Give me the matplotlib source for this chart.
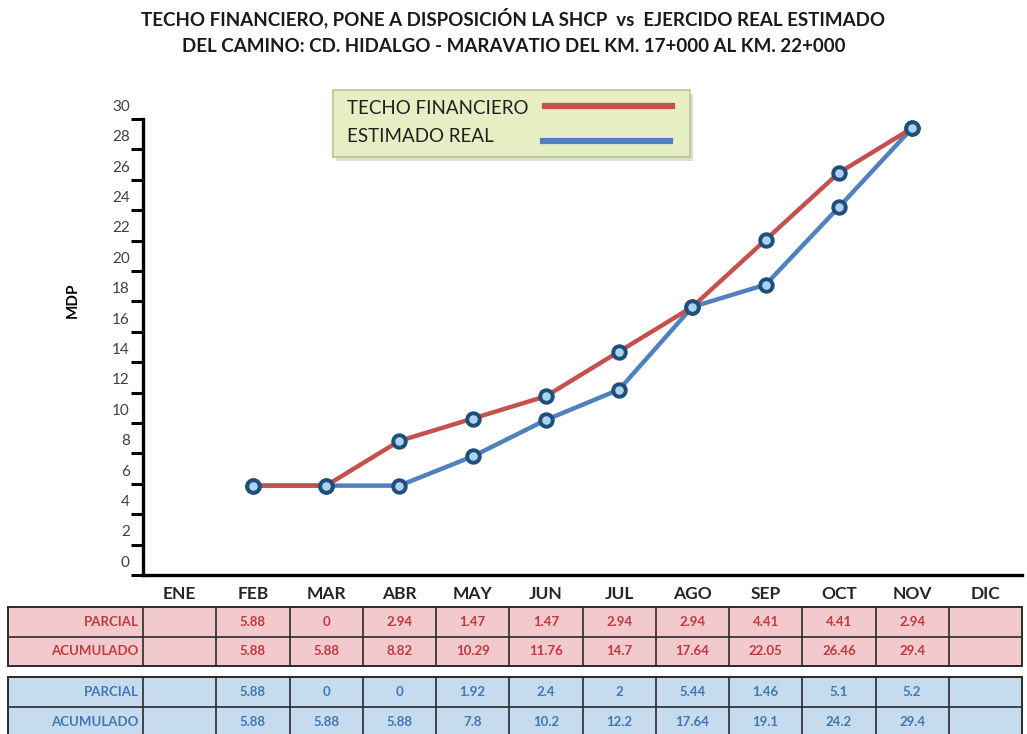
import matplotlib
matplotlib.use("Agg")
import matplotlib.pyplot as plt
from matplotlib.patches import Rectangle
from matplotlib.transforms import blended_transform_factory
from matplotlib.lines import Line2D

plt.rcParams['font.family'] = ['Lato', 'DejaVu Sans']

# ---- data ----
months = ["ENE", "FEB", "MAR", "ABR", "MAY", "JUN", "JUL", "AGO", "SEP", "OCT", "NOV", "DIC"]
techo_parcial = [None, 5.88, 0, 2.94, 1.47, 1.47, 2.94, 2.94, 4.41, 4.41, 2.94, None]
techo_acum = [None, 5.88, 5.88, 8.82, 10.29, 11.76, 14.7, 17.64, 22.05, 26.46, 29.4, None]
real_parcial = [None, 5.88, 0, 0, 1.92, 2.4, 2, 5.44, 1.46, 5.1, 5.2, None]
real_acum = [None, 5.88, 5.88, 5.88, 7.8, 10.2, 12.2, 17.64, 19.1, 24.2, 29.4, None]
y_ticks = list(range(0, 31, 2))

title_1 = "TECHO FINANCIERO, PONE A DISPOSICIÓN LA SHCP  vs  EJERCIDO REAL ESTIMADO"
title_2 = "DEL CAMINO: CD. HIDALGO - MARAVATIO DEL KM. 17+000 AL KM. 22+000"

RED = "#c4514e"
BLUE = "#4f81bd"
MARK_EDGE = "#1f4e79"
MARK_FACE = "#a9d3ee"

W, H = 1027, 734
fig = plt.figure(figsize=(W / 100, H / 100), dpi=100)

# axes frame in pixel terms
x0, x1 = 143, 1022
yb, yt = 575, 119
ax = fig.add_axes([x0 / W, 1 - yb / H, (x1 - x0) / W, (yb - yt) / H])
ax.set_xlim(-0.5, len(months) - 0.5)
ax.set_ylim(0, 30)

for s in ("top", "right"):
    ax.spines[s].set_visible(False)
ax.spines["left"].set_linewidth(2.4)
ax.spines["bottom"].set_linewidth(2.4)
ax.spines["left"].set_color("black")
ax.spines["bottom"].set_color("black")

ax.set_yticks(y_ticks)
ax.set_yticklabels([])
ax.tick_params(axis="y", direction="out", length=9, width=2.2, color="black")
ax.set_xticks([])

# y tick labels sit slightly above their tick marks
lab_tr = blended_transform_factory(ax.transAxes, ax.transData)
for v in y_ticks:
    ax.text(-0.015, v + 0.8, str(v), transform=lab_tr, ha="right", va="center",
            fontsize=11, color="#404040", clip_on=False)

fig.text(73 / W, 1 - 300 / H, "MDP", rotation=90, ha="center", va="center",
         fontsize=11, fontweight="bold", color="black")

# series
xs = [i for i, v in enumerate(real_acum) if v is not None]
ys_real = [real_acum[i] for i in xs]
xs_t = [i for i, v in enumerate(techo_acum) if v is not None]
ys_techo = [techo_acum[i] for i in xs_t]

ax.plot(xs, ys_real, color=BLUE, lw=3.2, zorder=3, solid_capstyle="round")
ax.plot(xs_t, ys_techo, color=RED, lw=3.2, zorder=4, solid_capstyle="round")
ax.plot(xs_t, ys_techo, ls="none", marker="o", ms=9, mfc=MARK_FACE, mec=MARK_EDGE,
        mew=2.8, zorder=5, clip_on=False)
ax.plot(xs, ys_real, ls="none", marker="o", ms=9, mfc=MARK_FACE, mec=MARK_EDGE,
        mew=2.8, zorder=6, clip_on=False)

# titles
fig.text(0.5, 1 - 18 / H, title_1, ha="center", va="center", fontsize=13.5,
         fontweight="bold", color="#1a1a1a")
fig.text(0.5, 1 - 46 / H, title_2, ha="center", va="center", fontsize=13.5,
         fontweight="bold", color="#1a1a1a")

# legend box
lx0, lx1, ly0, ly1 = 333, 690, 90, 157
shadow = Rectangle(((lx0 + 3) / W, 1 - (ly1 + 4) / H), (lx1 - lx0) / W, (ly1 - ly0) / H,
                   transform=fig.transFigure, facecolor="#c9cbb8", edgecolor="none",
                   alpha=0.6, zorder=1)
fig.add_artist(shadow)
box = Rectangle((lx0 / W, 1 - ly1 / H), (lx1 - lx0) / W, (ly1 - ly0) / H,
                transform=fig.transFigure, facecolor="#e6efc4", edgecolor="#b9c58a",
                lw=1.2, zorder=2)
fig.add_artist(box)
fig.text(347 / W, 1 - 108 / H, "TECHO FINANCIERO", ha="left", va="center",
         fontsize=13.5, color="#202020", zorder=3)
fig.text(347 / W, 1 - 137 / H, "ESTIMADO REAL", ha="left", va="center",
         fontsize=13.5, color="#202020", zorder=3)
fig.add_artist(Line2D([545 / W, 672 / W], [1 - 106 / H, 1 - 106 / H],
                      transform=fig.transFigure, color=RED, lw=4.5, zorder=3))
fig.add_artist(Line2D([543 / W, 670 / W], [1 - 141 / H, 1 - 141 / H],
                      transform=fig.transFigure, color=BLUE, lw=4.5, zorder=3))

# ---- data table below the axis ----
tr = blended_transform_factory(ax.transData, ax.transAxes)


def fy(ypix):
    return (yb - ypix) / (yb - yt)


label_left = -0.5 - (x0 - 8) / ((x1 - x0) / len(months))

for i, m in enumerate(months):
    ax.text(i, fy(594), m, transform=tr, ha="center", va="center", fontsize=12.5,
            fontweight="bold", color="#262626", clip_on=False)


def draw_block(rows, top, row_h, fill, txt_color):
    n = len(rows)
    bottom = top + n * row_h
    ax.add_patch(Rectangle((label_left, fy(bottom)), len(months) - 0.5 - label_left,
                           fy(top) - fy(bottom), transform=tr, facecolor=fill,
                           edgecolor="#2a2a2a", lw=1.4, clip_on=False, zorder=1))
    for r in range(1, n):
        yy = fy(top + r * row_h)
        ax.plot([label_left, len(months) - 0.5], [yy, yy], transform=tr,
                color="#2a2a2a", lw=1.2, clip_on=False, zorder=2)
    for c in range(len(months)):
        xx = c - 0.5
        ax.plot([xx, xx], [fy(top), fy(bottom)], transform=tr, color="#2a2a2a",
                lw=1.2, clip_on=False, zorder=2)
    for r, (name, vals) in enumerate(rows):
        yc = fy(top + (r + 0.5) * row_h)
        ax.text(-0.56, yc, name, transform=tr, ha="right", va="center",
                fontsize=9.5, fontweight="bold", color=txt_color, clip_on=False)
        for c, v in enumerate(vals):
            if v is not None:
                ax.text(c, yc, f"{v:g}", transform=tr, ha="center", va="center",
                        fontsize=9.5, fontweight="bold", color=txt_color,
                        clip_on=False)


draw_block([("PARCIAL", techo_parcial), ("ACUMULADO", techo_acum)], 607, 29.5,
           "#f2c9cc", "#c0393f")
draw_block([("PARCIAL", real_parcial), ("ACUMULADO", real_acum)], 677, 30,
           "#c6dcee", "#3f78b4")

fig.savefig("out.png", dpi=100)
